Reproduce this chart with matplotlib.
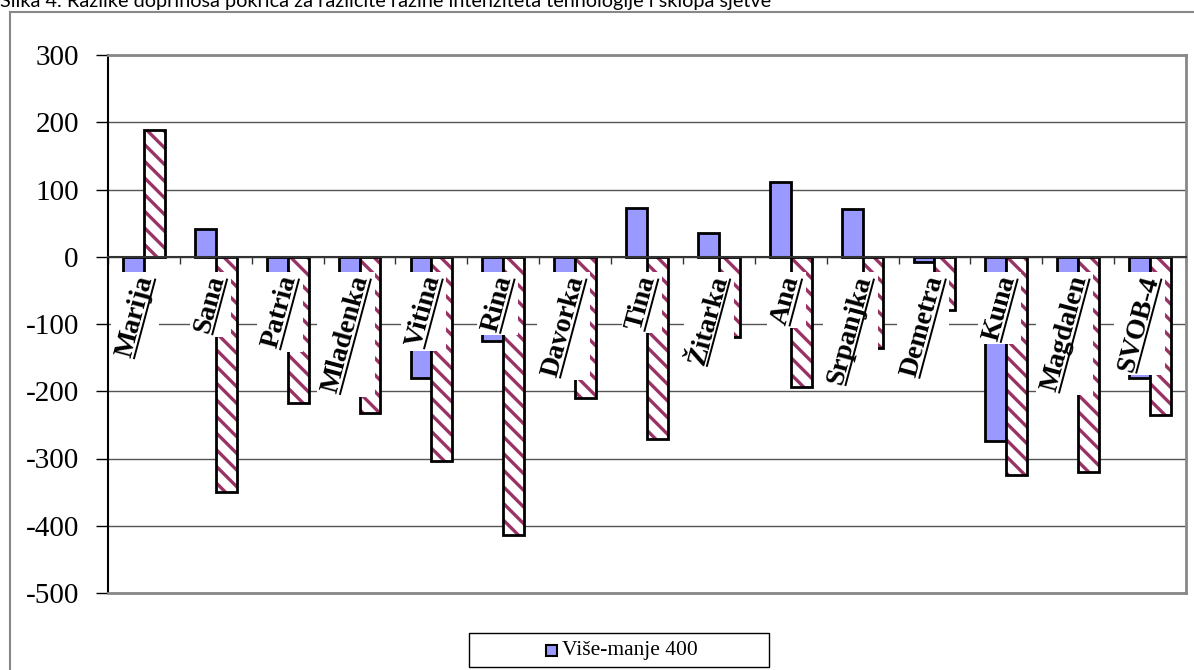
import numpy as np
import matplotlib
matplotlib.use("Agg")
import matplotlib.pyplot as plt
from matplotlib.patches import Rectangle
from matplotlib.lines import Line2D

# ---------------- Data ----------------
cultivars = ["Marija", "Sana", "Patria", "Mladenka", "Vitina", "Rina", "Davorka",
             "Tina", "Žitarka", "Ana", "Srpanjka", "Demetra", "Kuna", "Magdalen", "SVOB-4"]
vise_manje_400 = [-40, 42, -50, -60, -181, -126, -50, 72, 35, 111, 71, -8, -274, -70, -180]
second_series = [188, -350, -217, -232, -303, -414, -210, -271, -120, -193, -136, -79, -325, -320, -235]
yticks = [-500, -400, -300, -200, -100, 0, 100, 200, 300]
legend_label = "Više-manje 400"
title = ("Slika 4. Razlike doprinosa pokrića za različite razine intenziteta "
         "tehnologije i sklopa sjetve")

# ---------------- Style ----------------
plt.rcParams["font.family"] = ["Liberation Serif", "DejaVu Serif"]
plt.rcParams["axes.unicode_minus"] = False
plt.rcParams["hatch.linewidth"] = 2.4

W, H = 1194, 670
fig = plt.figure(figsize=(W / 100, H / 100), dpi=100)
ax = fig.add_axes([108 / W, 1 - 593 / H, (1186 - 108) / W, (593 - 55) / H])

x = np.arange(len(cultivars))
bw = 0.29

# blue bars
ax.bar(x - bw / 2, vise_manje_400, bw, facecolor="#9999FF", edgecolor="black",
       linewidth=2, zorder=2)
# hatched bars: hatch first, outline on top
ax.bar(x + bw / 2, second_series, bw, facecolor="white", edgecolor="#993366",
       hatch="\\\\", linewidth=0, zorder=2)
ax.bar(x + bw / 2, second_series, bw, fill=False, edgecolor="black",
       linewidth=2, zorder=2.1)

# ---------------- Axes ----------------
ax.set_xlim(-0.5, len(cultivars) - 0.5)
ax.set_ylim(-500, 300)
ax.set_yticks(yticks)
ax.set_yticklabels([str(v) for v in yticks])
ax.yaxis.grid(True, color="#555555", linewidth=1)
ax.tick_params(axis="y", direction="out", length=9, width=1, pad=12, labelsize=21)

ax.spines["bottom"].set_position(("data", 0))
ax.spines["bottom"].set_color("#333333")
ax.spines["bottom"].set_linewidth(1.5)
ax.set_xticks(np.arange(-0.5, len(cultivars), 1))
ax.set_xticklabels([])
ax.tick_params(axis="x", direction="out", length=5, width=1, color="#333333")

ax.spines["left"].set_linewidth(1.5)
for s in ["top", "right"]:
    ax.spines[s].set_color("#888888")
    ax.spines[s].set_linewidth(2)
ax.axhline(-500, color="#888888", linewidth=2, zorder=2.6, clip_on=False)

# ---------------- Outer frame and title ----------------
fig.add_artist(Line2D([10 / W, 10 / W], [0, 1 - 12 / H], color="#888888", lw=1.5))
fig.add_artist(Line2D([10 / W, 1], [1 - 12 / H, 1 - 12 / H], color="#888888", lw=1.5))
# the title sits half above the top edge, as in the source screenshot
fig.text(0, 1 - 7 / H, title, family="Lato", fontsize=14.3, va="baseline")

# ---------------- Category labels (rotated, underlined, on white boxes) ----------------
fig.canvas.draw()
renderer = fig.canvas.get_renderer()
inv = ax.transData.inverted()
theta = np.deg2rad(75)
u = np.array([np.cos(theta), np.sin(theta)])
v = np.array([-np.sin(theta), np.cos(theta)])
fs = 20
em = fs * 100 / 72

for i, name in enumerate(cultivars):
    t = ax.text(i + 0.195, -24, name, rotation=75, ha="right", va="top",
                fontsize=fs, fontweight="bold", zorder=6, clip_on=False)
    tmp = fig.text(0, 0, name, fontsize=fs, fontweight="bold", va="baseline")
    tb = tmp.get_window_extent(renderer)
    L, Hh, d = tb.width, tb.height, -tb.y0
    tmp.remove()

    bb = t.get_window_extent(renderer)
    (x0, y0) = inv.transform((bb.x0 - 1, bb.y0 - 1))
    (x1, y1) = inv.transform((bb.x1 + 1, bb.y1 + 1))
    ax.add_patch(Rectangle((x0, y0), x1 - x0, y1 - y0, facecolor="white",
                           edgecolor="none", zorder=5, clip_on=False))

    origin = np.array([bb.x0 + Hh * np.sin(theta), bb.y0])
    yl = d - 0.12 * em
    p0 = inv.transform(origin + yl * v)
    p1 = inv.transform(origin + L * u + yl * v)
    ax.plot([p0[0], p1[0]], [p0[1], p1[1]], color="black", lw=1.4, zorder=7,
            clip_on=False, solid_capstyle="butt")

# ---------------- Legend (only the visible entry) ----------------
fig.add_artist(Rectangle((469 / W, 1 - 667 / H), 300 / W, 34 / H,
                         transform=fig.transFigure, fill=False,
                         edgecolor="black", lw=1))
fig.add_artist(Rectangle((546 / W, 1 - 656 / H), 11 / W, 11 / H,
                         transform=fig.transFigure, facecolor="#9999FF",
                         edgecolor="black", lw=1.5))
fig.text(562 / W, 1 - 650 / H, legend_label, fontsize=15.5, va="center")

fig.savefig("out.png", dpi=100)
